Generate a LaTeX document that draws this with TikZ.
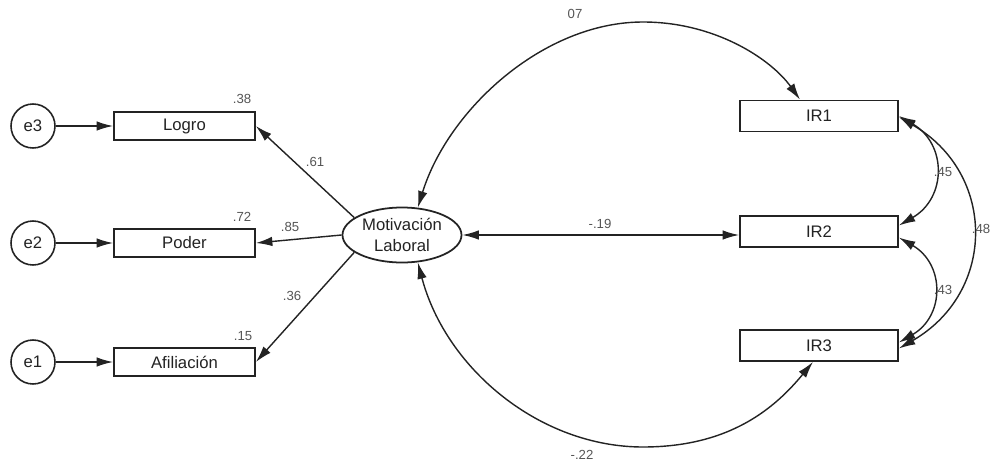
\documentclass[tikz,border=0pt]{standalone}
\usepackage{fontspec}
\setmainfont{Liberation Sans}
\usepackage{xcolor}
\usetikzlibrary{arrows.meta,positioning,shapes.geometric}
\definecolor{ink}{RGB}{35,35,35}
\definecolor{coefgray}{RGB}{85,85,85}

\begin{document}
\begin{tikzpicture}[
    line width=0.8pt,
    obs/.style={rectangle, draw=ink, line width=1pt, minimum width=#1, minimum height=0.56cm, inner sep=0pt, text=ink, font=\fontsize{9.5}{11}\selectfont},
    err/.style={circle, draw=ink, line width=0.9pt, minimum size=0.88cm, inner sep=0pt, text=ink, font=\fontsize{9.5}{11}\selectfont},
    lat/.style={ellipse, draw=ink, line width=1pt, minimum width=2.38cm, minimum height=1.10cm, inner sep=0pt, align=center, text=ink, font=\fontsize{9.5}{11.5}\selectfont},
    reg/.style={draw=ink, -{Latex[length=3.3mm,width=1.9mm]}},
    cov/.style={draw=ink, {Latex[length=3.3mm,width=1.9mm]}-{Latex[length=3.3mm,width=1.9mm]}},
    coef/.style={text=coefgray, inner sep=1pt, font=\fontsize{7.5}{9}\selectfont}
]
\useasboundingbox (0,0) rectangle (19.82,-9.32);

% Error terms
\node[err] (e3) at (0.66,-2.52) {e3};
\node[err] (e2) at (0.66,-4.86) {e2};
\node[err] (e1) at (0.66,-7.24) {e1};

% Indicators
\node[obs=2.82cm] (logro) at (3.69,-2.52) {Logro};
\node[obs=2.82cm] (poder) at (3.69,-4.86) {Poder};
\node[obs=2.82cm] (afil) at (3.69,-7.24) {Afiliación};

% Latent factor
\node[lat] (ml) at (8.04,-4.70) {Motivación\\Laboral};

% IR variables
\node[obs=3.16cm, minimum height=0.62cm] (ir1) at (16.38,-2.32) {IR1};
\node[obs=3.16cm, minimum height=0.62cm] (ir2) at (16.38,-4.63) {IR2};
\node[obs=3.16cm, minimum height=0.62cm] (ir3) at (16.38,-6.91) {IR3};

% Error paths
\draw[reg] (e3) -- (logro);
\draw[reg] (e2) -- (poder);
\draw[reg] (e1) -- (afil);

% Loadings
\draw[reg] (ml.160) -- (logro.east);
\draw[reg] (ml.west) -- (poder.east);
\draw[reg] (ml.200) -- (afil.east);

% Covariances
\draw[cov] (ml.60) .. controls (8.96,-2.20) and (10.86,-0.44) .. (12.86,-0.44)
    .. controls (14.30,-0.44) and (15.42,-1.18) .. ([xshift=-0.38cm]ir1.north);
\draw[cov] (ml.east) -- (ml.east -| ir2.west);
\draw[cov] (ml.-60) .. controls (8.92,-7.38) and (10.80,-8.94) .. (12.86,-8.94)
    .. controls (14.60,-8.94) and (15.50,-8.16) .. ([xshift=-0.12cm]ir3.south);
\draw[cov] (ir1.east) to[out=-30,in=30,looseness=1.3] ([yshift=0.12cm]ir2.east);
\draw[cov] ([yshift=-0.12cm]ir2.east) to[out=-30,in=30,looseness=1.3] ([yshift=0.06cm]ir3.east);
\draw[cov] ([yshift=-0.02cm]ir1.east) to[out=-30,in=30,looseness=1.25] ([yshift=-0.06cm]ir3.east);

% Coefficients
\node[coef] (r1) at (4.84,-1.98) {.38};
\node[coef] (r2) at (4.84,-4.34) {.72};
\node[coef] (r3) at (4.86,-6.72) {.15};
\node[coef] (l1) at (6.30,-3.24) {.61};
\node[coef] (l2) at (5.80,-4.54) {.85};
\node[coef] (l3) at (5.84,-5.92) {.36};
\node[coef] (c1) at (11.50,-0.28) {07};
\node[coef] (c2) at (12.00,-4.48) {-.19};
\node[coef] (c3) at (11.64,-9.10) {-.22};
\node[coef] (c4) at (18.86,-3.44) {.45};
\node[coef] (c5) at (18.86,-5.80) {.43};
\node[coef] (c6) at (19.62,-4.58) {.48};

\end{tikzpicture}
\end{document}
